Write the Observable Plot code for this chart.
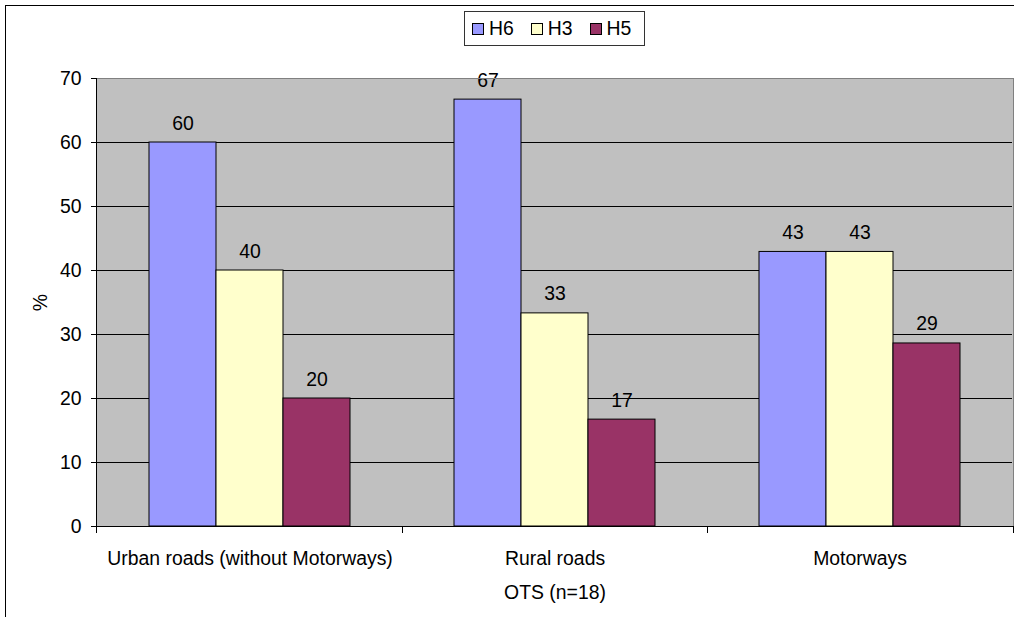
<!DOCTYPE html>
<html>
<head>
<meta charset="utf-8">
<script src="https://cdn.jsdelivr.net/npm/d3@7"></script>
<script src="https://cdn.jsdelivr.net/npm/@observablehq/plot@0.6"></script>
<style>
  html, body { margin: 0; padding: 0; background: #fff; }
  #wrap { position: relative; width: 1014px; height: 617px; overflow: hidden; font-family: "Liberation Sans", Arial, sans-serif; }
  #border { position: absolute; left: 5px; top: 5px; width: 1100px; height: 700px; border-left: 1.5px solid #000; border-top: 1.5px solid #000; }
  #chart { position: absolute; left: 0; top: 0; }
  #legend { position: absolute; left: 464px; top: 11px; width: 172px; height: 33px; border: 1px solid #333; background: #fff;
            display: flex; align-items: center; padding-left: 7px; box-sizing: content-box; gap: 17px; font-size: 19.4px; color: #000; }
  #legend .item { display: flex; align-items: center; }
  #legend .sw { width: 10px; height: 10px; border: 1px solid #000; margin-right: 5px; }
</style>
</head>
<body>
<div id="wrap">
  <div id="border"></div>
  <div id="chart"></div>
  <div id="legend"></div>
</div>
<script>
const categories = ["Urban roads (without Motorways)", "Rural roads", "Motorways"];
const series = ["H6", "H3", "H5"];
const h6 = [60, 66.7, 42.9];
const h3 = [40, 33.3, 42.9];
const h5 = [20, 16.7, 28.6];
const colors = ["#9999FF", "#FFFFCC", "#993366"];
const yTicks = [0, 10, 20, 30, 40, 50, 60, 70];
const xTitle = "OTS (n=18)";
const yTitle = "%";

const seriesValues = [h6, h3, h5];
const data = categories.flatMap((c, i) => series.map((s, j) => ({category: c, series: s, value: seriesValues[j][i]})));

const W = 1014, H = 617, ML = 96, MR = 1, MT = 78, MB = 91;
const X0 = ML, X1 = W - MR, YT = MT, YB = H - MB;

// Plot-area background, drawn once (first facet) across the whole plot area
const backgroundRender = (index) => {
  if (!index || index.length === 0) return null;
  return d3.create("svg:rect").attr("x", X0).attr("y", YT).attr("width", X1 - X0).attr("height", YB - YT).attr("fill", "#C0C0C0").node();
};

// Axis lines, plot-area border and category boundary ticks, drawn once
const decorRender = (index, scales) => {
  if (!index || index.length === 0) return null;
  const g = d3.create("svg:g");
  g.append("line").attr("x1", X0).attr("x2", X1).attr("y1", YT + 0.5).attr("y2", YT + 0.5).attr("stroke", "#808080");
  g.append("line").attr("x1", X1 - 0.5).attr("x2", X1 - 0.5).attr("y1", YT).attr("y2", YB).attr("stroke", "#808080");
  g.append("line").attr("x1", X0 - 0.5).attr("x2", X0 - 0.5).attr("y1", YT).attr("y2", YB + 7).attr("stroke", "#000");
  g.append("line").attr("x1", X0).attr("x2", X1).attr("y1", YB + 0.5).attr("y2", YB + 0.5).attr("stroke", "#000");
  const step = (X1 - X0) / categories.length;
  for (let i = 1; i <= categories.length; i++) {
    const x = Math.round(X0 + step * i) - 0.5;
    g.append("line").attr("x1", x).attr("x2", x).attr("y1", YB).attr("y2", YB + 7).attr("stroke", "#000");
  }
  return g.node();
};

const plot = Plot.plot({
  width: W,
  height: H,
  marginLeft: ML,
  marginRight: MR,
  marginTop: MT,
  marginBottom: MB,
  style: {fontFamily: '"Liberation Sans", Arial, sans-serif', fontSize: "19.4px", background: "transparent", color: "#000", overflow: "visible"},
  fx: {domain: categories, padding: 0, label: null},
  x: {domain: series, paddingInner: 0, paddingOuter: 0.75, axis: null},
  y: {domain: [0, 70], axis: null},
  color: {domain: series, range: colors},
  marks: [
    Plot.ruleY([0], {fx: () => categories[0], y: d => d, render: backgroundRender}),
    Plot.ruleY(yTicks, {stroke: "#000", strokeWidth: 1}),
    Plot.barY(data, {fx: "category", x: "series", y: "value", fill: "series", stroke: "#000", strokeWidth: 1, inset: 0}),
    Plot.text(data, {fx: "category", x: "series", y: "value", text: d => String(Math.round(d.value)), lineAnchor: "bottom", dy: -13, fill: "#000"}),
    Plot.axisY({ticks: yTicks, tickSize: 6, tickPadding: 10, label: yTitle, labelArrow: "none", labelAnchor: "center", labelOffset: 64, stroke: "#000"}),
    Plot.axisFx({anchor: "bottom", tickSize: 0, tickPadding: 25, label: xTitle, labelAnchor: "center", labelOffset: 72}),
    Plot.ruleY([0], {fx: () => categories[0], y: d => d, render: decorRender})
  ]
});
document.getElementById("chart").appendChild(plot);

const legend = d3.select("#legend");
series.forEach((s, i) => {
  const item = legend.append("div").attr("class", "item");
  item.append("div").attr("class", "sw").style("background", colors[i]);
  item.append("span").text(s);
});
</script>
</body>
</html>
